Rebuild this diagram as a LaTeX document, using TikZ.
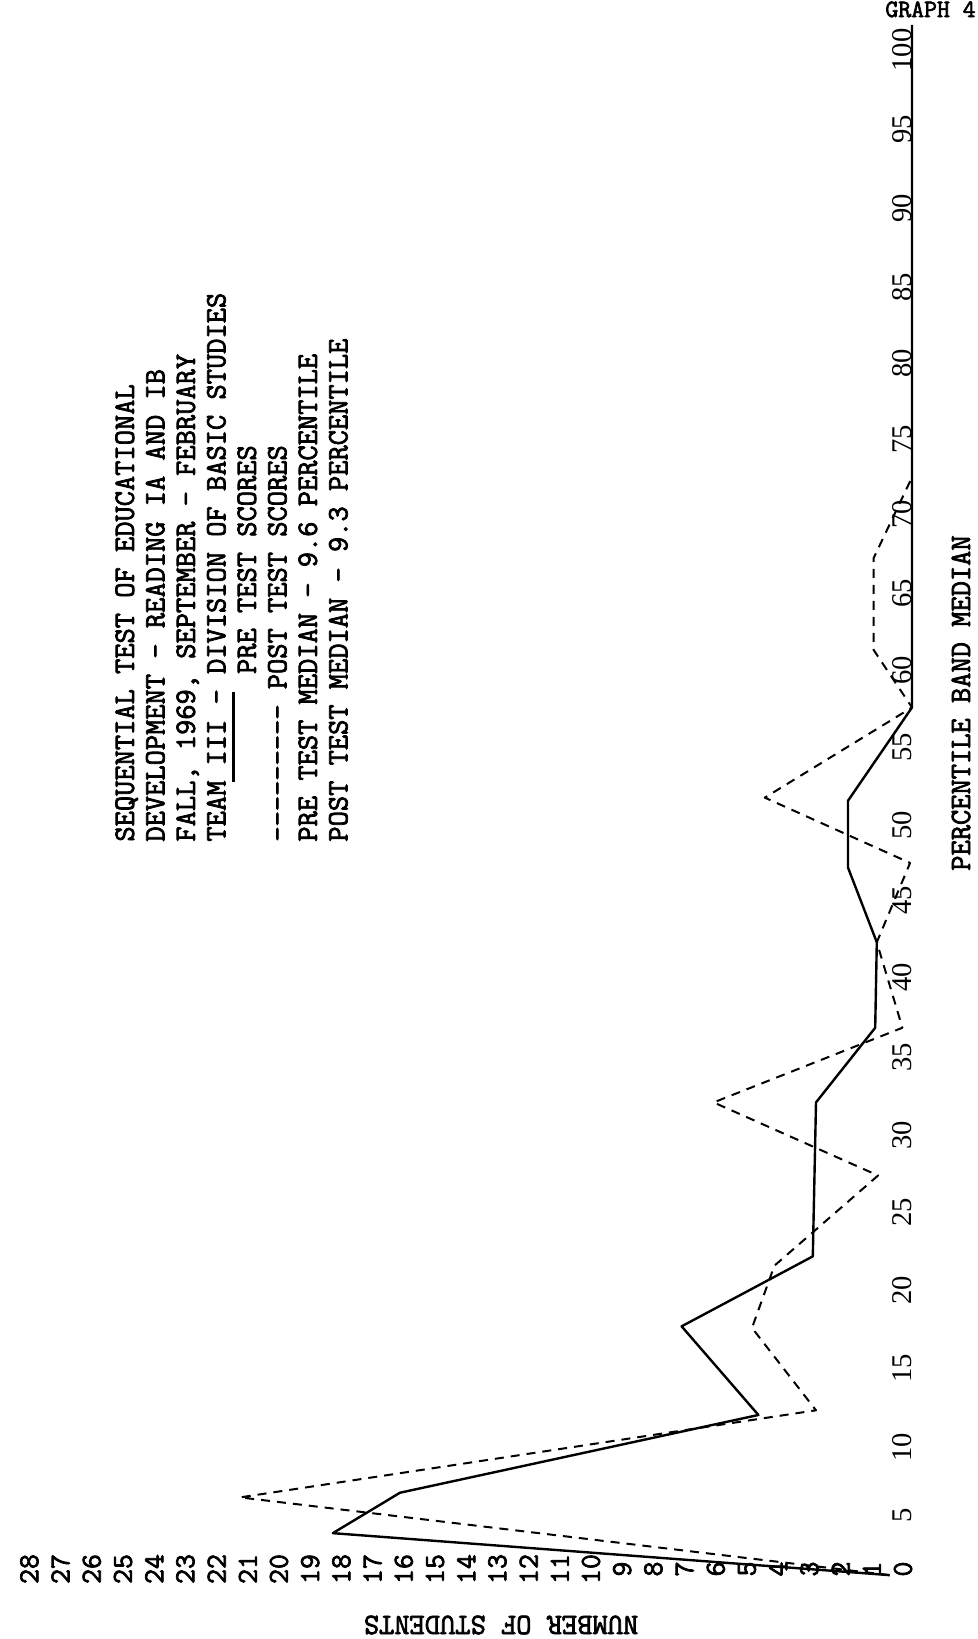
\documentclass[tikz,border=0pt]{standalone}
\usepackage{fontspec}
\newfontfamily\typefont{Latin Modern Mono}[FakeBold=2.5]
\newfontfamily\labelfont{Liberation Serif}
\usetikzlibrary{positioning}

\tikzset{
  pct/.style={rotate=90, inner sep=0pt, font=\labelfont\fontsize{14.3}{14.3}\selectfont},
  cnt/.style={rotate=90, inner sep=0pt, font=\typefont\fontsize{14.5}{14.5}\selectfont},
  caption/.style={inner sep=0pt, font=\typefont\fontsize{14.8}{15.25}\selectfont},
  pretest/.style={line width=1.2pt, line join=round},
  posttest/.style={line width=1pt, line join=round, dash pattern=on 4.5pt off 3.5pt},
}

\begin{document}
\begin{tikzpicture}[x=0.5pt, y=-0.5pt]
\useasboundingbox[fill=white] (0,0) rectangle (978,1639);

% Percentile band labels (page turned on its side)
\foreach \p/\ypos in {100/50, 95/129, 90/208, 85/287, 80/363, 75/439, 70/514,
    65/593, 60/670, 55/747, 50/825, 45/900, 40/977, 35/1057, 30/1135,
    25/1212, 20/1290, 15/1368, 10/1447, 5/1515}
  \node[pct] (p\p) at (902,\ypos) {\p};

% Number of students labels
\foreach \n in {0,...,28}
  \node[cnt] (n\n) at ({903-31.2*\n},1569) {\n};

% Axis titles
\node[caption, rotate=90] (pctaxis) at (961,703) {PERCENTILE BAND MEDIAN};
\node[caption, rotate=180] (cntaxis) at (501,1625) {NUMBER OF STUDENTS};
\node[caption, font=\typefont\fontsize{12.5}{12.5}\selectfont, anchor=north east] (graph) at (976,1) {GRAPH 4};

% Caption block
\node[caption, rotate=90, anchor=north west, align=left] (legend) at (115,842) {%
  SEQUENTIAL TEST OF EDUCATIONAL\\
  DEVELOPMENT - READING IA AND IB\\
  FALL, 1969, SEPTEMBER - FEBRUARY\\
  TEAM III - DIVISION OF BASIC STUDIES\\
  \hphantom{XXXXXXXXXXX}PRE TEST SCORES\\
  -{}-{}-{}-{}-{}-{}-{}-{}- POST TEST SCORES\\
  PRE TEST MEDIAN - 9.6 PERCENTILE\\
  POST TEST MEDIAN - 9.3 PERCENTILE};
\draw[line width=1.5pt] (233,692) -- (233,782);

% Curves: x = students, y = percentile
\begin{scope}[shift={(456pt,-800pt)}, x=-16pt, y=7.775pt]
  % pre test
  \draw[pretest] plot coordinates {(0.7,1.6) (18.1,4.3) (16,6.9) (4.8,11.9)
    (7.2,17.6) (3.1,22.1) (3,32) (1.15,36.8) (1.1,42.3) (2,47.1) (2,51.4)
    (0,57.4) (0,101.3)};
  % post test
  \draw[posttest] plot coordinates {(0.7,1.6) (21,6.6) (3,12.2) (5,17.5)
    (4.3,21.5) (1.06,27.3) (6.2,32) (0.3,36.8) (1.1,42.3) (0.06,47.4)
    (4.6,51.6) (0,57.4) (1.2,61.1) (1.2,67) (0,72.2)};
\end{scope}

\end{tikzpicture}
\end{document}
